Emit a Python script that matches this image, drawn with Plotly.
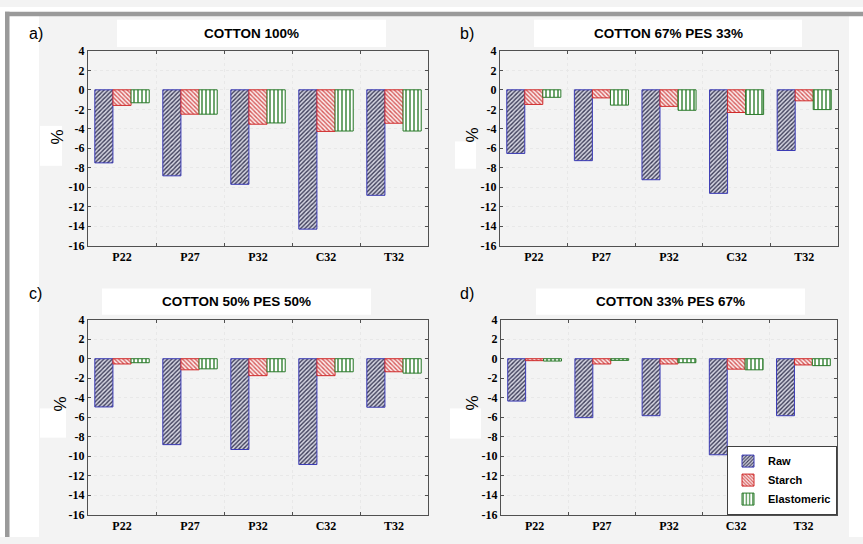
import plotly.graph_objects as go

# ---------------- data ----------------
categories = ["P22", "P27", "P32", "C32", "T32"]
series_names = ["Raw", "Starch", "Elastomeric"]
panel_titles = ["COTTON 100%", "COTTON 67% PES 33%", "COTTON 50% PES 50%", "COTTON 33% PES 67%"]
panel_labels = ["a)", "b)", "c)", "d)"]

raw_a = [-7.5, -8.83, -9.7, -14.3, -10.83]
starch_a = [-1.6, -2.5, -3.53, -4.27, -3.43]
elast_a = [-1.33, -2.5, -3.4, -4.23, -4.23]

raw_b = [-6.53, -7.27, -9.23, -10.63, -6.23]
starch_b = [-1.5, -0.83, -1.7, -2.33, -1.13]
elast_b = [-0.77, -1.57, -2.1, -2.53, -2.03]

raw_c = [-4.95, -8.82, -9.32, -10.86, -4.98]
starch_c = [-0.54, -1.14, -1.74, -1.74, -1.34]
elast_c = [-0.41, -1.04, -1.34, -1.34, -1.48]

raw_d = [-4.35, -6.05, -5.85, -9.86, -5.85]
starch_d = [-0.2, -0.54, -0.54, -1.07, -0.64]
elast_d = [-0.24, -0.17, -0.41, -1.14, -0.71]

ytick_vals = [4, 2, 0, -2, -4, -6, -8, -10, -12, -14, -16]
ytick_text = ["4", "2", "0", "-2", "-4", "-6", "-8", "-10", "-12", "-14", "-16"]

panels = [
    (raw_a, starch_a, elast_a),
    (raw_b, starch_b, elast_b),
    (raw_c, starch_c, elast_c),
    (raw_d, starch_d, elast_d),
]

# ---------------- styling ----------------
W, H = 863, 544
BG = "#f3f3f3"
FRAME = "#9a9a9a"
AX = "#505050"

styles = {
    "Raw": dict(line="#3b3bb5", fg="#3c3c58", bg="#d6d6e2", shape="/", size=3, solidity=0.45),
    "Starch": dict(line="#d02a2a", fg="#d65a5a", bg="#fbecec", shape="\\", size=3, solidity=0.45),
    "Elastomeric": dict(line="#2a7a2a", fg="#2f7f2f", bg="#ffffff", shape="|", size=4, solidity=0.35),
}

# plot-area pixel boxes (left, right, top, bottom)
boxes = [(88, 428, 45, 245), (500, 838, 45, 245), (88, 428, 321, 521), (501, 837, 321, 521)]
# title white boxes (x0, x1, y0, y1)
title_boxes = [(117, 386, 13, 41), (534, 802, 13, 41), (102, 371, 289, 316), (536, 805, 289, 316)]
label_pos = [(36, 27), (467, 27), (35, 294), (467, 294)]
pct_boxes = [(40, 62, 122, 163), (455, 476, 138, 166), (40, 66, 412, 442), (450, 481, 412, 443)]
pct_pos = [(58, 134), (473, 132), (60, 408), (473, 407)]

def px(x):
    return x / W

def py(y):
    return 1 - y / H

fig = go.Figure()

for i, (vals, box) in enumerate(zip(panels, boxes)):
    n = i + 1
    xa = "x" if n == 1 else f"x{n}"
    ya = "y" if n == 1 else f"y{n}"
    for name, v in zip(series_names, vals):
        s = styles[name]
        fig.add_trace(go.Bar(
            x=categories, y=v, name=f"<b>{name}</b>", xaxis=xa, yaxis=ya,
            legendgroup=name, showlegend=(n == 4),
            marker=dict(
                color=s["bg"],
                line=dict(color=s["line"], width=1),
                pattern=dict(shape=s["shape"], fgcolor=s["fg"], bgcolor=s["bg"],
                             size=s["size"], solidity=s["solidity"], fillmode="replace"),
            ),
        ))
    l, r, t, b = box
    axis_common = dict(showline=True, mirror="ticks", linecolor=AX, linewidth=1,
                       ticks="inside", ticklen=3, tickcolor=AX,
                       tickfont=dict(family="Liberation Serif", size=12, color="#000", weight="bold"),
                       gridcolor="#e8e8e8", griddash="dot", gridwidth=1, zeroline=False)
    fig.update_layout(**{
        ("xaxis" if n == 1 else f"xaxis{n}"): dict(
            domain=[px(l), px(r)], anchor=ya, type="category", tickson="boundaries",
            showgrid=True, **axis_common),
        ("yaxis" if n == 1 else f"yaxis{n}"): dict(
            domain=[py(b), py(t)], anchor=xa, range=[-16, 4], tickvals=ytick_vals,
            ticktext=ytick_text, showgrid=True, **axis_common),
    })

shapes = []
# white strips outside the grey panel
shapes.append(dict(type="rect", xref="paper", yref="paper", x0=0, x1=px(39), y0=0, y1=1,
                   fillcolor="#ffffff", line=dict(width=0), layer="below"))
shapes.append(dict(type="rect", xref="paper", yref="paper", x0=px(849), x1=1, y0=0, y1=1,
                   fillcolor="#ffffff", line=dict(width=0), layer="below"))
shapes.append(dict(type="rect", xref="paper", yref="paper", x0=0, x1=1, y0=py(5), y1=1,
                   fillcolor="#ffffff", line=dict(width=0), layer="below"))
# grey frame bars
shapes.append(dict(type="rect", xref="paper", yref="paper", x0=px(5), x1=1, y0=py(9.5), y1=py(5),
                   fillcolor=FRAME, line=dict(width=0), layer="below"))
shapes.append(dict(type="rect", xref="paper", yref="paper", x0=px(5), x1=px(9.5), y0=0, y1=py(5),
                   fillcolor=FRAME, line=dict(width=0), layer="below"))
for (x0, x1, y0, y1) in title_boxes + pct_boxes:
    shapes.append(dict(type="rect", xref="paper", yref="paper", x0=px(x0), x1=px(x1),
                       y0=py(y1), y1=py(y0), fillcolor="#ffffff", line=dict(width=0), layer="below"))

annotations = []
for (x0, x1, y0, y1), title in zip(title_boxes, panel_titles):
    annotations.append(dict(text=f"<b>{title}</b>", xref="paper", yref="paper",
                            x=px((x0 + x1) / 2), y=py((y0 + y1) / 2), showarrow=False,
                            xanchor="center", yanchor="middle",
                            font=dict(family="Liberation Sans", size=13.5, color="#000")))
for (x, y), lab in zip(label_pos, panel_labels):
    annotations.append(dict(text=lab, xref="paper", yref="paper", x=px(x), y=py(y),
                            showarrow=False, xanchor="center", yanchor="middle",
                            font=dict(family="Liberation Sans", size=16, color="#000")))
for (x, y) in pct_pos:
    annotations.append(dict(text="%", xref="paper", yref="paper", x=px(x), y=py(y),
                            showarrow=False, xanchor="center", yanchor="middle", textangle=-90,
                            font=dict(family="Liberation Sans", size=17, color="#000")))

fig.update_layout(
    width=W, height=H, autosize=False,
    margin=dict(l=0, r=0, t=0, b=0),
    paper_bgcolor=BG, plot_bgcolor=BG,
    barmode="group", bargap=0.2, bargroupgap=0,
    shapes=shapes, annotations=annotations,
    showlegend=True,
    legend=dict(x=px(837), xanchor="right", y=py(521), yanchor="bottom",
                bgcolor="#ffffff", bordercolor="#404040", borderwidth=1,
                font=dict(family="Liberation Sans", size=11, color="#000"),
                traceorder="normal", itemwidth=30, tracegroupgap=0),
)

fig.write_html(
    "out.html",
    config={"displayModeBar": False},
    post_script="document.body.style.margin='0';document.body.style.padding='0';"
                "document.body.style.overflow='hidden';",
)
